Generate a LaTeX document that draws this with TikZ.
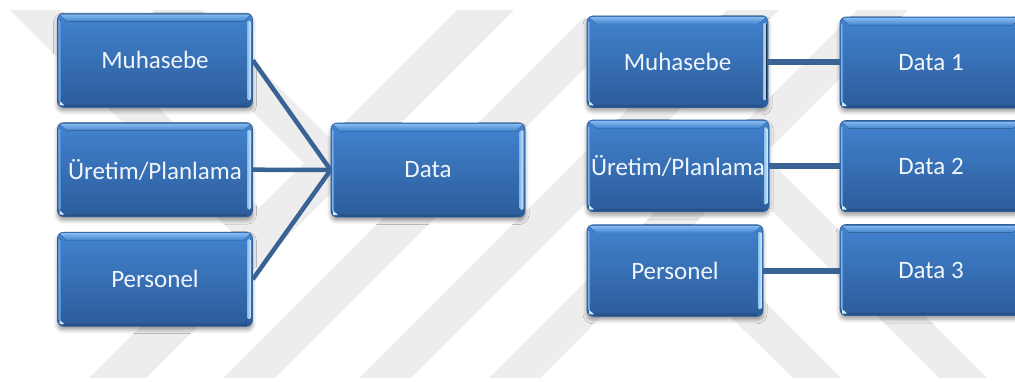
\documentclass[tikz,border=0pt]{standalone}
\usepackage{fontspec}
\setmainfont{Carlito}
\usetikzlibrary{shadows.blur}

\definecolor{wmgray}{RGB}{237,237,237}
\definecolor{boxtop}{RGB}{66,131,207}
\definecolor{boxbot}{RGB}{44,92,154}
\definecolor{boxedge}{RGB}{48,95,158}
\definecolor{bevel}{RGB}{132,186,240}
\definecolor{glow}{RGB}{206,234,253}
\definecolor{linkblue}{RGB}{58,99,149}

\tikzset{
  band/.style={fill=wmgray},
  gbox/.style={
    rounded corners=6pt, inner sep=0pt, align=center,
    text={rgb,255:red,240;green,245;blue,252},
    font=\fontsize{25pt}{30pt}\selectfont,
    top color=boxtop, bottom color=boxbot, draw=boxedge, line width=0.7pt,
    blur shadow={shadow xshift=0pt, shadow yshift=-3.5pt,
                 shadow blur radius=4pt, shadow opacity=40},
    path picture={
      \path (path picture bounding box.north west) coordinate (bnw)
            (path picture bounding box.south east) coordinate (bse);
      \coordinate (bne) at (bnw -| bse);
      \coordinate (bsw) at (bse -| bnw);
      % lighter bevel along the top edge
      \fill[sharp corners, top color=bevel, bottom color=boxtop]
        ([xshift=2pt,yshift=-1pt]bnw) -- ([xshift=-2pt,yshift=-1pt]bne)
        -- ([xshift=-9pt,yshift=-8pt]bne) -- ([xshift=9pt,yshift=-8pt]bnw) -- cycle;
      % thin light strip on the left edge
      \fill[sharp corners, left color=bevel!80!boxtop, right color=boxtop]
        ([xshift=1pt,yshift=-7pt]bnw) rectangle ([xshift=3pt,yshift=7pt]bsw);
      % darker band along the bottom edge
      \fill[sharp corners, top color=boxbot, bottom color=boxbot!80!black]
        ([xshift=6pt,yshift=4pt]bsw) rectangle ([xshift=-6pt,yshift=0.5pt]bse);
      % glossy highlight on the right edge
      \fill[rounded corners=1.5pt, left color=bevel, right color=glow]
        ([xshift=-5.5pt,yshift=-7pt]bne) rectangle ([xshift=-1.5pt,yshift=7pt]bse);
      % small mark in the lower left corner
      \fill[sharp corners, glow]
        ([xshift=2pt,yshift=2pt]bsw) -- ++(5pt,0pt) -- ++(-5pt,4.5pt) -- cycle;
    }},
  leftbox/.style={gbox, minimum width=195pt, minimum height=94pt},
  rightbox/.style={gbox, minimum width=181pt, minimum height=91.5pt},
  databox/.style={gbox, minimum width=182pt, minimum height=91pt},
  link/.style={draw=linkblue, line width=4.5pt},
  rlink/.style={draw=linkblue, line width=6pt}
}

\begin{document}
\begin{tikzpicture}[x=1pt, y=-1pt]
  \useasboundingbox (0,0) rectangle (1015,381);
  \clip (0,0) rectangle (1015,381);

  % faint diagonal watermark bands
  \fill[band] (457,10) -- (514,10) -- (146,378) -- (89,378) -- cycle;
  \fill[band] (583,18) -- (635,18) -- (275,378) -- (223,378) -- cycle;
  \fill[band] (727,10) -- (779,10) -- (411,378) -- (359,378) -- cycle;
  \fill[band] (857,10) -- (908,10) -- (540,378) -- (489,378) -- cycle;
  \fill[band] (10,10) -- (61,10) -- (259,208) -- (233.5,233.5) -- cycle;
  \fill[band] (151,10) -- (202,10) -- (329.5,137.5) -- (304,163) -- cycle;
  \fill[band] (793,378) -- (841,378) -- (678,215) -- (652,240) -- cycle;
  \fill[band] (939,378) -- (987,378) -- (763,154) -- (739,178) -- cycle;

  % left group: three departments sharing one data store
  \node[leftbox] (lm) at (155,60.3)  {Muhasebe};
  \node[leftbox] (lu) at (155,169.7) {Üretim/Planlama};
  \node[leftbox] (lp) at (155,279.2) {Personel};
  \node[leftbox, minimum width=194pt] (ld) at (428,170) {Data};

  \draw[link] (lm.east) -- (ld.west);
  \draw[link] (lu.east) -- (ld.west);
  \draw[link] (lp.east) -- (ld.west);

  % right group: each department with its own data store
  \node[rightbox] (rm) at (677.5,61.7) {Muhasebe};
  \node[rightbox, minimum width=182pt] (ru) at (678,165.8) {Üretim/Planlama};
  \node[rightbox, minimum width=176pt] (rp) at (675,270.5) {Personel};
  \node[databox] (d1) at (931,62.5) {Data 1};
  \node[databox] (d2) at (931,166)  {Data 2};
  \node[databox] (d3) at (931,270)  {Data 3};

  \draw[rlink] (rm.east) -- (rm.east -| d1.west);
  \draw[rlink] (ru.east) -- (ru.east -| d2.west);
  \draw[rlink] (rp.east) -- (rp.east -| d3.west);
\end{tikzpicture}
\end{document}
